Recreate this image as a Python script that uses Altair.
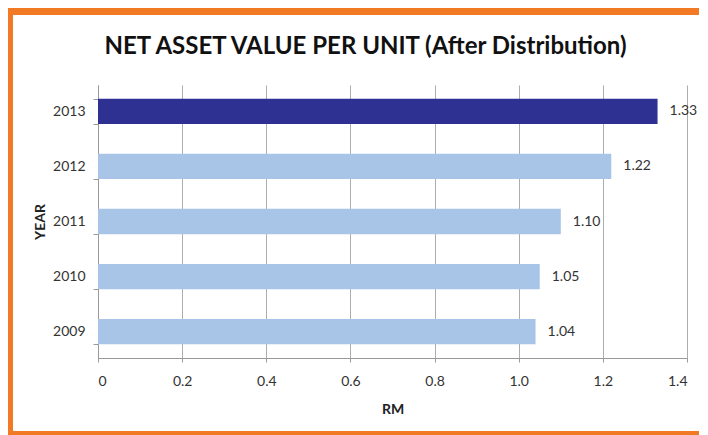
import altair as alt
import pandas as pd

years = ["2013", "2012", "2011", "2010", "2009"]
values = [1.33, 1.22, 1.10, 1.05, 1.04]
highlight = ["yes", "no", "no", "no", "no"]
x_ticks = [0, 0.2, 0.4, 0.6, 0.8, 1.0, 1.2, 1.4]

df = pd.DataFrame({"year": years, "value": values, "hl": highlight})
one = pd.DataFrame({"k": [0]})

ORANGE = "#F27A24"
LABEL_FONT = "Lato"

y_enc = alt.Y(
    "year:N",
    sort=years,
    scale=alt.Scale(paddingInner=0.54, paddingOuter=0.25),
    axis=alt.Axis(
        title="YEAR",
        titleFont=LABEL_FONT,
        titleFontSize=14,
        titleFontWeight="bold",
        titleColor="#222222",
        titlePadding=5,
        labelFont=LABEL_FONT,
        labelFontSize=14,
        labelColor="#333333",
        labelPadding=8,
        tickBand="extent",
        tickSize=5,
        tickColor="#999999",
        domainColor="#999999",
        grid=False,
    ),
)

x_enc = alt.X(
    "value:Q",
    scale=alt.Scale(domain=[0, 1.4], nice=False, zero=True),
    axis=alt.Axis(
        title="RM",
        titleFont=LABEL_FONT,
        titleFontSize=14,
        titleFontWeight="bold",
        titleColor="#222222",
        titlePadding=14,
        values=x_ticks,
        labelExpr="datum.value == 0 ? '0' : format(datum.value, '.1f')",
        labelFont=LABEL_FONT,
        labelFontSize=14,
        labelColor="#333333",
        labelPadding=12,
        tickSize=4,
        tickColor="#999999",
        domainColor="#999999",
        grid=True,
        gridColor="#ADADAD",
        gridWidth=1,
    ),
)

bars = alt.Chart(df).mark_bar().encode(
    y=y_enc,
    x=x_enc,
    color=alt.Color(
        "hl:N",
        scale=alt.Scale(domain=["yes", "no"], range=["#2E3192", "#A8C4E6"]),
        legend=None,
    ),
)

labels = alt.Chart(df).mark_text(
    align="left", baseline="middle", dx=12, font=LABEL_FONT, fontSize=14, color="#333333"
).encode(
    y=alt.Y("year:N", sort=years),
    x=alt.X("value:Q"),
    text=alt.Text("value:Q", format=".2f"),
)

left_border = alt.Chart(one).mark_rule(color=ORANGE, strokeWidth=5).encode(
    x=alt.value(-87.5), y=alt.value(-77), y2=alt.value(350)
)
top_border = alt.Chart(one).mark_rule(color=ORANGE, strokeWidth=7).encode(
    y=alt.value(-73.5), x=alt.value(-90), x2=alt.value(601)
)
bottom_border = alt.Chart(one).mark_rule(color=ORANGE, strokeWidth=4).encode(
    y=alt.value(348), x=alt.value(-90), x2=alt.value(601)
)

chart = (
    alt.layer(bars, labels, left_border, top_border, bottom_border)
    .properties(
        width=589,
        height=273,
        autosize=alt.AutoSizeParams(type="none"),
        padding={"left": 90, "top": 77, "right": 12, "bottom": 77},
        background="white",
        title=alt.TitleParams(
            "NET ASSET VALUE PER UNIT (After Distribution)",
            font="Lato",
            fontSize=24,
            fontWeight="bold",
            color="#111111",
            baseline="alphabetic",
            frame="group",
            offset=-72,
            dx=-27,
        ),
    )
    .configure_view(stroke=None)
)

chart.save("out.html", embed_options={"renderer": "svg", "actions": False})
